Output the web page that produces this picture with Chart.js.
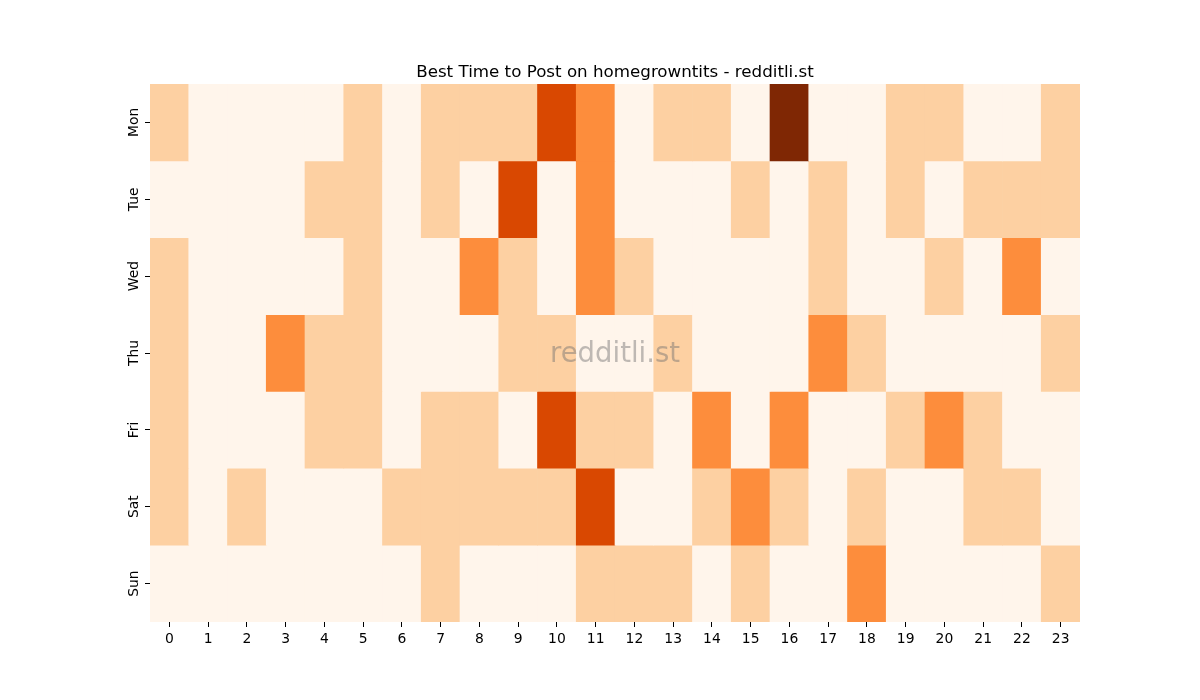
<!DOCTYPE html>
<html>
<head>
<meta charset="utf-8">
<script src="https://cdn.jsdelivr.net/npm/chart.js@4/dist/chart.umd.min.js"></script>
<style>
html,body{margin:0;padding:0;background:#fff;}
#wrap{width:1200px;height:700px;}
</style>
</head>
<body>
<div id="wrap"><canvas id="c" width="1200" height="700"></canvas></div>
<script>
const hours = ["0","1","2","3","4","5","6","7","8","9","10","11","12","13","14","15","16","17","18","19","20","21","22","23"];
const days = ["Mon","Tue","Wed","Thu","Fri","Sat","Sun"];
const mon = [1,0,0,0,0,1,0,1,1,1,3,2,0,1,1,0,4,0,0,1,1,0,0,1];
const tue = [0,0,0,0,1,1,0,1,0,3,0,2,0,0,0,1,0,1,0,1,0,1,1,1];
const wed = [1,0,0,0,0,1,0,0,2,1,0,2,1,0,0,0,0,1,0,0,1,0,2,0];
const thu = [1,0,0,2,1,1,0,0,0,1,1,0,0,1,0,0,0,2,1,0,0,0,0,1];
const fri = [1,0,0,0,1,1,0,1,1,0,3,1,1,0,2,0,2,0,0,1,2,1,0,0];
const sat = [1,0,1,0,0,0,1,1,1,1,1,3,0,0,1,2,1,0,1,0,0,1,1,0];
const sun = [0,0,0,0,0,0,0,1,0,0,0,1,1,1,0,1,0,0,2,0,0,0,0,1];
const rows = [mon,tue,wed,thu,fri,sat,sun];
const palette = ["#fff5eb","#fdd0a2","#fd8d3c","#d94801","#7f2704"];
const titleText = "Best Time to Post on homegrowntits - redditli.st";
const watermark = "redditli.st";

const datasets = rows.map((vals, r) => ({
  label: days[r],
  data: vals.map(() => [r, r + 1]),
  backgroundColor: vals.map(v => palette[v]),
  borderWidth: 0,
  barPercentage: 1.0,
  categoryPercentage: 1.0,
  grouped: false
}));

const textPlugin = {
  id: 'texts',
  afterDatasetsDraw(chart) {
    const a = chart.chartArea, ctx = chart.ctx;
    const cx = (a.left + a.right) / 2;
    ctx.save();
    // watermark
    ctx.font = '27.5px "DejaVu Sans"';
    ctx.fillStyle = 'rgba(110,110,110,0.45)';
    ctx.textAlign = 'center';
    ctx.textBaseline = 'middle';
    ctx.fillText(watermark, cx, (a.top + a.bottom) / 2 + 2);
    // title
    ctx.font = '16.7px "DejaVu Sans"';
    ctx.fillStyle = '#000';
    ctx.textAlign = 'center';
    ctx.textBaseline = 'alphabetic';
    ctx.fillText(titleText, cx, a.top - 7);
    // y tick labels (rotated)
    const ys = chart.scales.y;
    ctx.font = '13.9px "DejaVu Sans"';
    ctx.textBaseline = 'middle';
    days.forEach((d, i) => {
      const py = ys.getPixelForValue(i + 0.5);
      ctx.save();
      ctx.translate(a.left - 16, py);
      ctx.rotate(-Math.PI / 2);
      ctx.fillText(d, 0, 0);
      ctx.restore();
    });
    ctx.restore();
  }
};

new Chart(document.getElementById('c'), {
  type: 'bar',
  data: { labels: hours, datasets },
  plugins: [textPlugin],
  options: {
    responsive: false,
    animation: false,
    layout: { padding: { top: 84, right: 120, bottom: 0, left: 0 } },
    plugins: {
      legend: { display: false },
      tooltip: { enabled: false },
      title: { display: false }
    },
    scales: {
      x: {
        type: 'category',
        offset: true,
        grid: { display: true, drawOnChartArea: false, drawTicks: true, tickLength: 5, tickWidth: 1, tickColor: '#000', offset: false },
        border: { display: false },
        ticks: { color: '#000', font: { family: 'DejaVu Sans', size: 13.9 }, padding: 4, maxRotation: 0, minRotation: 0, autoSkip: false },
        afterFit(s) { s.height = 78; }
      },
      y: {
        type: 'linear',
        min: 0, max: 7,
        reverse: true,
        grid: { display: true, drawOnChartArea: false, drawTicks: true, tickLength: 5, tickWidth: 1, tickColor: '#000' },
        border: { display: false },
        afterBuildTicks(axis) { axis.ticks = days.map((d, i) => ({ value: i + 0.5 })); },
        ticks: { display: false },
        afterFit(s) { s.width = 150; }
      }
    }
  }
});
</script>
</body>
</html>
